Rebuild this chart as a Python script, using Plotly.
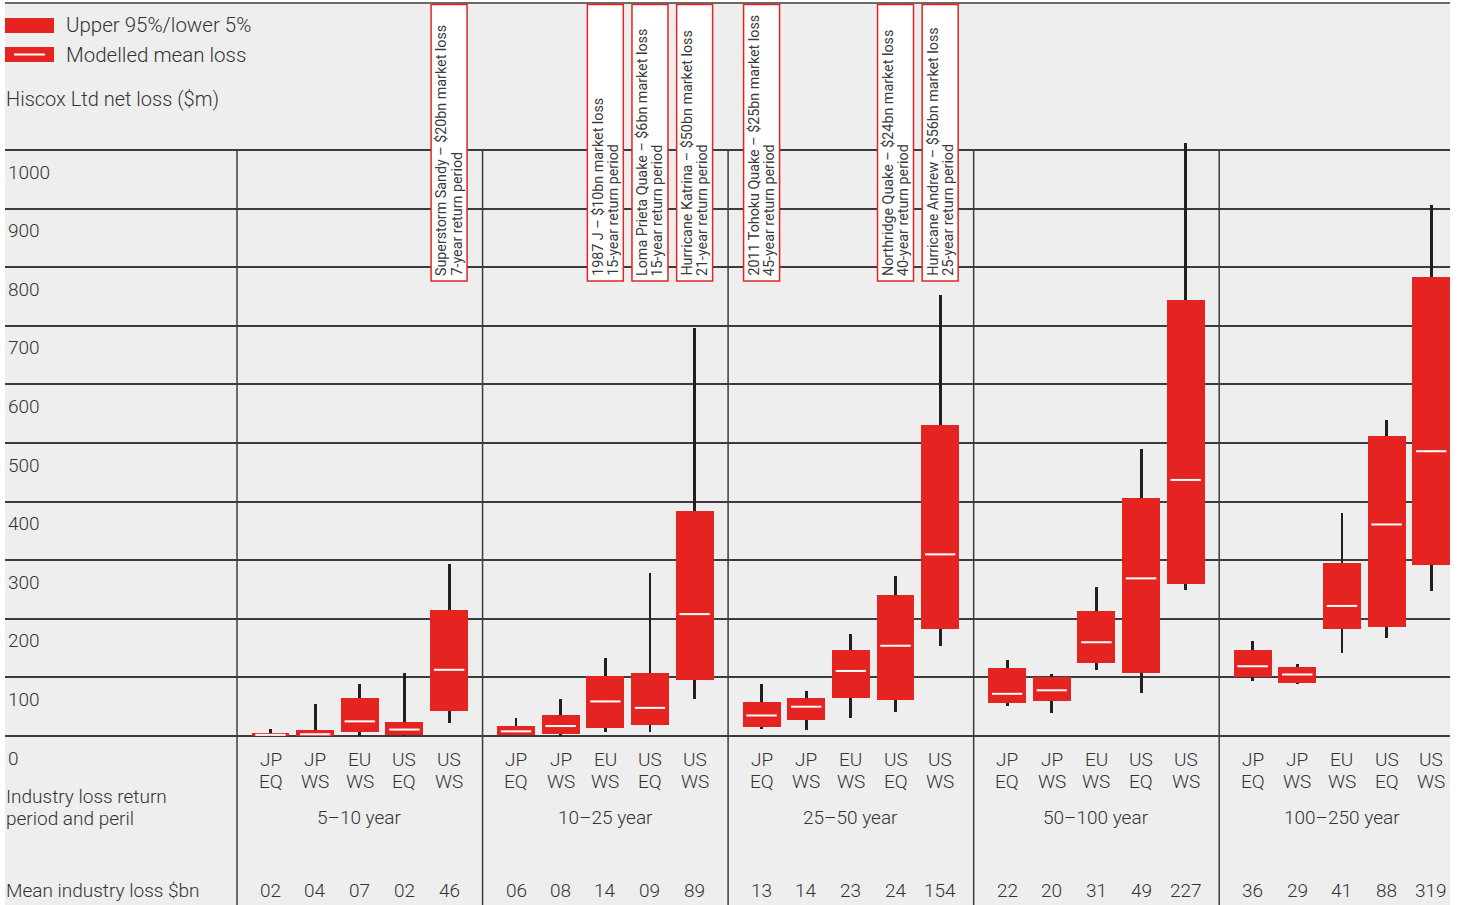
import plotly.graph_objects as go

# ---------------- data ----------------
group_names = ["5–10 year", "10–25 year", "25–50 year", "50–100 year", "100–250 year"]
peril_region = ["JP", "JP", "EU", "US", "US"]
peril_type = ["EQ", "WS", "WS", "EQ", "WS"]

# Hiscox Ltd net loss ($m), one row per return-period group, one column per peril
upper_95 = [
    [5, 10, 65, 24, 215],
    [17, 36, 102, 107, 384],
    [58, 65, 147, 241, 531],
    [116, 100, 213, 406, 744],
    [146, 118, 296, 512, 784],
]
lower_5 = [
    [0, 0, 6, 2, 43],
    [2, 4, 14, 18, 96],
    [16, 28, 65, 62, 182],
    [57, 60, 124, 108, 260],
    [101, 91, 182, 186, 291],
]
mean_loss = [
    [2, 3, 25, 11, 113],
    [8, 17, 59, 48, 208],
    [35, 50, 111, 154, 310],
    [72, 78, 160, 269, 437],
    [119, 105, 222, 361, 486],
]
whisker_high = [
    [12, 54, 89, 107, 293],
    [30, 63, 133, 278, 697],
    [89, 77, 174, 273, 753],
    [129, 105, 254, 489, 1012],
    [162, 123, 381, 539, 906],
]
whisker_low = [
    [0, 0, 0, 0, 23],
    [2, 0, 7, 7, 63],
    [12, 11, 30, 41, 154],
    [52, 40, 113, 74, 250],
    [94, 88, 141, 168, 248],
]
industry_loss = [
    ["02", "04", "07", "02", "46"],
    ["06", "08", "14", "09", "89"],
    ["13", "14", "23", "24", "154"],
    ["22", "20", "31", "49", "227"],
    ["36", "29", "41", "88", "319"],
]
y_ticks = [0, 100, 200, 300, 400, 500, 600, 700, 800, 900, 1000]
y_tick_text = ["0", "100", "200", "300", "400", "500", "600", "700", "800", "900", "1000"]

# historical events: (group index, peril index, title, return period)
event_group = [0, 1, 1, 1, 2, 2, 2]
event_peril = [4, 2, 3, 4, 0, 3, 4]
event_title = [
    "Superstorm Sandy – $20bn market loss",
    "1987 J – $10bn market loss",
    "Loma Prieta Quake – $6bn market loss",
    "Hurricane Katrina – $50bn market loss",
    "2011 Tohoku Quake – $25bn market loss",
    "Northridge Quake – $24bn market loss",
    "Hurricane Andrew – $56bn market loss",
]
event_period = [
    "7-year return period",
    "15-year return period",
    "15-year return period",
    "21-year return period",
    "45-year return period",
    "40-year return period",
    "25-year return period",
]

# ---------------- style ----------------
RED = "#e52421"
INK = "#333333"
GRID = "#3c3c3c"
BG = "#eeeeee"
FONT = "Roboto"
FW = 300

W, H = 1460, 905
ML, MR, MT, MB = 5, 10, 3, 0
PW, PH = W - ML - MR, H - MT - MB

GROUP_W = 5.5
OFFSET = 0.75
BOX_W = 0.85
WHISK_W = 0.065
MEAN_HALF = 0.34
EVENT_HALF = 0.403
X_RANGE = [-5.197, 27.17]
Y_RANGE = [-288.4, 1250.9]


def pxx(p):
    return (p - ML) / PW


def pyy(p):
    return 1 - (p - MT) / PH


def xpos(g, j):
    return g * GROUP_W + OFFSET + j


xs, box_base, box_len, wb, wlen = [], [], [], [], []
mx, my = [], []
for g in range(len(group_names)):
    for j in range(len(peril_type)):
        x = xpos(g, j)
        xs.append(x)
        box_base.append(lower_5[g][j])
        box_len.append(upper_95[g][j] - lower_5[g][j])
        wb.append(whisker_low[g][j])
        wlen.append(whisker_high[g][j] - whisker_low[g][j])
        mx += [x - MEAN_HALF, x + MEAN_HALF, None]
        my += [mean_loss[g][j], mean_loss[g][j], None]

fig = go.Figure()
fig.add_trace(go.Bar(x=xs, y=wlen, base=wb, width=WHISK_W,
                     marker=dict(color="#231f20", line=dict(width=0)),
                     showlegend=False, hoverinfo="skip"))
fig.add_trace(go.Bar(x=xs, y=box_len, base=box_base, width=BOX_W,
                     marker=dict(color=RED, line=dict(width=0)),
                     showlegend=False))
fig.add_trace(go.Scatter(x=mx, y=my, mode="lines",
                         line=dict(color="white", width=2),
                         showlegend=False, hoverinfo="skip"))

shapes = []
# top rule
shapes.append(dict(type="line", xref="paper", yref="paper", x0=0, x1=1, y0=1, y1=1,
                   line=dict(color=GRID, width=1.5)))
# group separators
for g in range(len(group_names)):
    shapes.append(dict(type="line", xref="x", yref="paper", x0=g * GROUP_W, x1=g * GROUP_W,
                       y0=0, y1=pyy(150), line=dict(color=GRID, width=1.5)))
# legend swatches
shapes.append(dict(type="rect", xref="paper", yref="paper", x0=pxx(5), x1=pxx(54),
                   y0=pyy(33), y1=pyy(18), fillcolor=RED, line=dict(width=0)))
shapes.append(dict(type="rect", xref="paper", yref="paper", x0=pxx(5), x1=pxx(54),
                   y0=pyy(62), y1=pyy(47), fillcolor=RED, line=dict(width=0)))
shapes.append(dict(type="line", xref="paper", yref="paper", x0=pxx(14), x1=pxx(45),
                   y0=pyy(54.5), y1=pyy(54.5), line=dict(color="white", width=2)))
# event boxes
for k in range(len(event_title)):
    xc = xpos(event_group[k], event_peril[k])
    shapes.append(dict(type="rect", xref="x", yref="paper", x0=xc - EVENT_HALF, x1=xc + EVENT_HALF,
                       y0=pyy(281), y1=pyy(4.5), fillcolor="white",
                       line=dict(color=RED, width=1.5), layer="above"))

ann = []
def txt(x, y, s, xref="paper", xanchor="left", size=19, align="left"):
    ann.append(dict(x=x, y=y, xref=xref, yref="paper", text=s, showarrow=False,
                    xanchor=xanchor, yanchor="middle", align=align,
                    font=dict(family=FONT, size=size, color=INK, weight=FW)))

txt(pxx(64), pyy(25), "Upper 95%/lower 5%", size=20.5)
txt(pxx(64), pyy(55), "Modelled mean loss", size=20.5)
txt(pxx(4), pyy(99), "Hiscox Ltd net loss ($m)", size=20)
txt(pxx(4), pyy(796), "Industry loss return")
txt(pxx(4), pyy(818), "period and peril")
txt(pxx(4), pyy(890), "Mean industry loss $bn")

for g in range(len(group_names)):
    txt(g * GROUP_W + GROUP_W / 2, pyy(817), group_names[g], xref="x", xanchor="center", align="center")
    for j in range(len(peril_type)):
        txt(xpos(g, j), pyy(759), peril_region[j], xref="x", xanchor="center", align="center")
        txt(xpos(g, j), pyy(781), peril_type[j], xref="x", xanchor="center", align="center")
        txt(xpos(g, j), pyy(890), industry_loss[g][j], xref="x", xanchor="center", align="center")

for k in range(len(event_title)):
    xc = xpos(event_group[k], event_peril[k])
    for line_text, shift in ((event_title[k], -7.5), (event_period[k], 7.5)):
        ann.append(dict(x=xc, y=pyy(277), xref="x", yref="paper", xshift=shift,
                        text=line_text, showarrow=False, textangle=-90,
                        xanchor="center", yanchor="bottom", borderpad=0,
                        font=dict(family=FONT, size=14.3, color="#3a3a3a", weight=400)))

fig.update_layout(
    width=W, height=H,
    margin=dict(l=ML, r=MR, t=MT, b=MB, pad=0),
    paper_bgcolor="white", plot_bgcolor=BG,
    barmode="overlay", bargap=0,
    showlegend=False,
    font=dict(family=FONT, size=19, color=INK, weight=FW),
    shapes=shapes, annotations=ann,
    xaxis=dict(range=X_RANGE, showgrid=False, zeroline=False, showticklabels=False,
               ticks="", fixedrange=True),
    yaxis=dict(range=Y_RANGE, tickvals=y_ticks, ticktext=y_tick_text,
               showgrid=True, gridcolor=GRID, gridwidth=1.5, zeroline=False,
               ticks="", ticklabelposition="inside", ticklabelshift=22, ticklabelstandoff=0,
               tickfont=dict(family=FONT, size=19, color=INK, weight=FW), fixedrange=True),
)

fig.write_html("out.html", config={"displayModeBar": False},
               post_script="document.body.style.margin='0';document.body.style.overflow='hidden';")
